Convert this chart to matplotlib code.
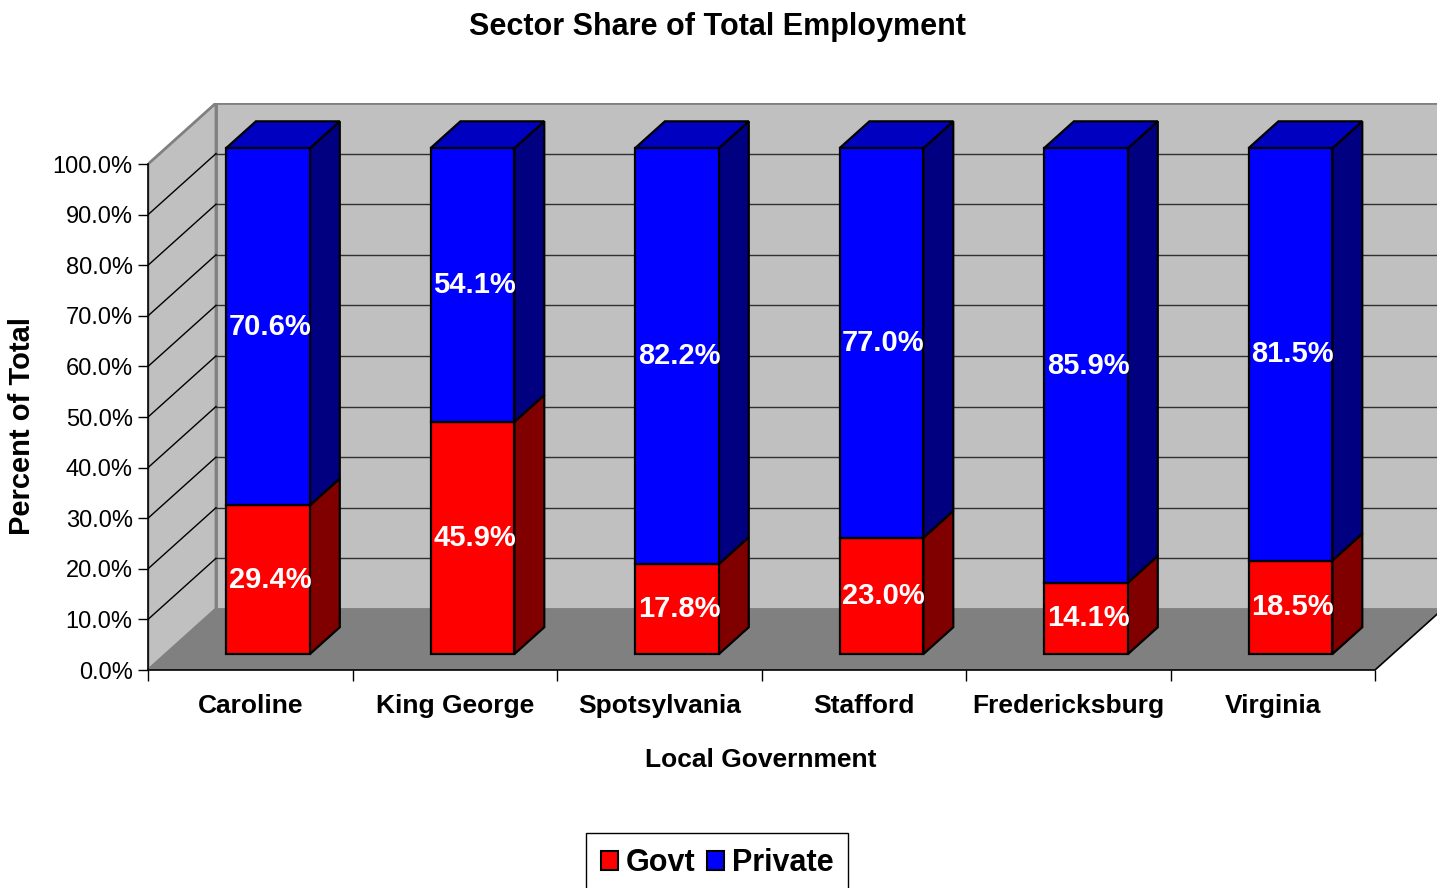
import matplotlib
matplotlib.use('Agg')
import matplotlib.pyplot as plt
from matplotlib.patches import Polygon, Patch

categories = ['Caroline', 'King George', 'Spotsylvania', 'Stafford', 'Fredericksburg', 'Virginia']
govt = [29.4, 45.9, 17.8, 23.0, 14.1, 18.5]
private = [70.6, 54.1, 82.2, 77.0, 85.9, 81.5]
yticks = [0, 10, 20, 30, 40, 50, 60, 70, 80, 90, 100]

plt.rcParams['font.family'] = ['Liberation Sans', 'DejaVu Sans']

# fake 3d: depth offset of the box in data units
DX = 0.3325
DY = 12.08
D0, D1 = 0.26, 0.70   # bar front / back depth
W = 0.41              # bar width
N = len(categories)


def pt(x, y, d):
    return (x + d * DX, y + d * DY)


fig = plt.figure(figsize=(14.37, 8.88), dpi=100)
ax = fig.add_axes([148 / 1437, 218 / 888, 1289 / 1437, 567 / 888])
ax.set_xlim(0, 1289 / 204.5)
ax.set_ylim(0, 100 + DY)

# walls and floor
ax.add_patch(Polygon([pt(0, 0, 1), pt(N, 0, 1), pt(N, 100, 1), pt(0, 100, 1)],
                     facecolor='#C0C0C0', edgecolor='#808080', lw=2, zorder=1))
ax.add_patch(Polygon([pt(0, 0, 0), pt(0, 0, 1), pt(0, 100, 1), pt(0, 100, 0)],
                     facecolor='#C0C0C0', edgecolor='#808080', lw=2, zorder=1))
ax.add_patch(Polygon([pt(0, 0, 0), pt(N, 0, 0), pt(N, 0, 1), pt(0, 0, 1)],
                     facecolor='#808080', edgecolor='none', zorder=1.5))
ax.plot([pt(N, 0, 0)[0], pt(N, 0, 1)[0]], [0, DY], color='black', lw=1.2, zorder=2)

for y in yticks[1:-1]:
    a, b = pt(0, y, 1), pt(N, y, 1)
    ax.plot([a[0], b[0]], [a[1], b[1]], color='#303030', lw=1, zorder=2)
    c = pt(0, y, 0)
    ax.plot([c[0], a[0]], [c[1], a[1]], color='black', lw=1, zorder=2)


def box(x0, x1, b, t, front, side, top=None):
    ax.add_patch(Polygon([pt(x0, b, D0), pt(x1, b, D0), pt(x1, t, D0), pt(x0, t, D0)],
                         facecolor=front, edgecolor='black', lw=1.6, zorder=4))
    ax.add_patch(Polygon([pt(x1, b, D0), pt(x1, b, D1), pt(x1, t, D1), pt(x1, t, D0)],
                         facecolor=side, edgecolor='black', lw=1.6, zorder=3))
    if top is not None:
        ax.add_patch(Polygon([pt(x0, t, D0), pt(x1, t, D0), pt(x1, t, D1), pt(x0, t, D1)],
                             facecolor=top, edgecolor='black', lw=1.6, zorder=3))


label_font = dict(color='white', fontsize=21, fontweight='bold', ha='center', va='center', zorder=6)
for i in range(N):
    x0, x1 = i + 0.5 - W / 2, i + 0.5 + W / 2
    g, p = govt[i], private[i]
    box(x0, x1, 0, g, '#FF0000', '#800000')
    box(x0, x1, g, g + p, '#0000FF', '#000080', '#0000C0')
    cx = i + 0.51 + D0 * DX
    ax.text(cx, g / 2 + D0 * DY, f'{g:.1f}%', **label_font)
    ax.text(cx, g + p / 2 + D0 * DY, f'{p:.1f}%', **label_font)

# axes
for s in ['top', 'right']:
    ax.spines[s].set_visible(False)
ax.spines['left'].set_bounds(0, 100)
ax.spines['bottom'].set_bounds(0, N)
for s in ['left', 'bottom']:
    ax.spines[s].set_linewidth(1.2)
    ax.spines[s].set_zorder(5)
ax.set_yticks(yticks)
ax.set_yticklabels([f'{v:.1f}%' for v in yticks], fontsize=17)
ax.tick_params(axis='y', length=7, width=1, pad=4)
ax.set_xticks([i + 0.5 for i in range(N)])
ax.set_xticklabels(categories, fontsize=19, fontweight='bold')
ax.set_xticks(range(N + 1), minor=True)
ax.tick_params(axis='x', which='major', length=0, pad=17)
ax.tick_params(axis='x', which='minor', length=8, width=1)

fig.text(0.4995, 1 - 27 / 888, 'Sector Share of Total Employment', ha='center', va='center',
         fontsize=22, fontweight='bold')
fig.text(761 / 1437, 1 - 760 / 888, 'Local Government', ha='center', va='center',
         fontsize=19, fontweight='bold')
fig.text(22 / 1437, 1 - 426 / 888, 'Percent of Total', ha='center', va='center',
         rotation=90, fontsize=21, fontweight='bold')

handles = [Patch(facecolor='#FF0000', edgecolor='black', lw=1.5, label='Govt'),
           Patch(facecolor='#0000FF', edgecolor='black', lw=1.5, label='Private')]
leg = fig.legend(handles=handles, loc='upper center', bbox_to_anchor=(717 / 1437, 1 - 833 / 888),
                 ncol=2, frameon=True, fancybox=False, framealpha=1, edgecolor='black',
                 prop={'weight': 'bold', 'size': 22}, handlelength=0.55, handleheight=0.6,
                 handletextpad=0.25, columnspacing=0.4, borderpad=0.5, borderaxespad=0)
leg.get_frame().set_linewidth(1)

fig.savefig('out.png', dpi=100)
